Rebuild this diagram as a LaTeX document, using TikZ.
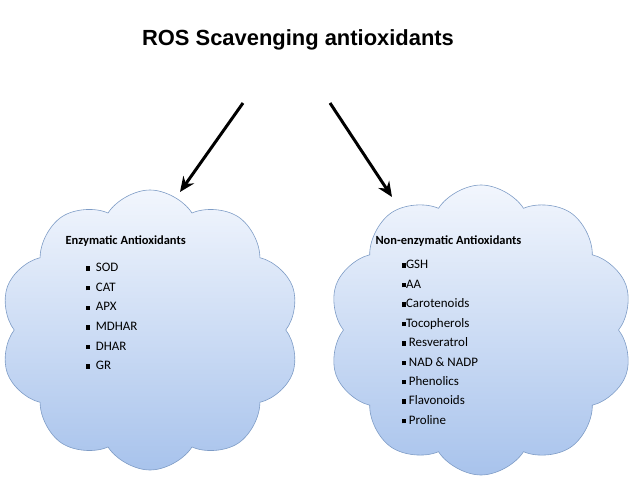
\documentclass[tikz,border=0pt]{standalone}
\usepackage{fontspec}
\setmainfont{Carlito}
\newfontfamily\titlefont{Liberation Sans}
\usetikzlibrary{shapes.symbols,arrows.meta}
\definecolor{cloudtop}{HTML}{F2F6FD}
\definecolor{cloudbot}{HTML}{A8C3EC}
\definecolor{cloudline}{HTML}{7E9CC6}
\newcommand{\sqb}{\raisebox{1pt}{\rule{4.5pt}{4.5pt}}}
\begin{document}
\begin{tikzpicture}[x=1bp,y=-1bp,
    blob/.style={cloud, cloud puffs=10, cloud puff arc=115, draw=cloudline, line width=0.6pt,
      top color=cloudtop, bottom color=cloudbot, inner sep=0pt},
    head/.style={anchor=west, font=\bfseries\fontsize{12.5}{14}\selectfont},
    list/.style={anchor=north west, align=left, font=\fontsize{13}{19.6}\selectfont},
    link/.style={-{Stealth[length=15bp,width=13bp]}, line width=3pt}]
  \useasboundingbox (0,0) rectangle (638,479);
  \node[font=\titlefont\bfseries\fontsize{22}{26}\selectfont] (title) at (298,40) {ROS Scavenging antioxidants};
  \node[blob, minimum width=300bp, minimum height=280bp] (enz) at (150,330) {};
  \node[blob, minimum width=305bp, minimum height=290bp] (non) at (481,330) {};
  \coordinate (s1) at (243,103);
  \coordinate (s2) at (330,103);
  \draw[link] (s1) -- (180,192);
  \draw[link] (s2) -- (392,197);
  % enzymatic
  \node[head] (enzh) at (62,241) {Enzymatic Antioxidants};
  \node[list] (enzl) at (82,260) {\sqb\ \ SOD\\ \sqb\ \ CAT\\ \sqb\ \ APX\\ \sqb\ \ MDHAR\\ \sqb\ \ DHAR\\ \sqb\ \ GR};
  % non-enzymatic
  \node[head] (nonh) at (372,241) {Non-enzymatic Antioxidants};
  \node[list, font=\fontsize{13}{19.5}\selectfont] (nonl) at (398,257) {\sqb GSH\\ \sqb AA\\ \sqb Carotenoids\\ \sqb Tocopherols\\ \sqb\ Resveratrol\\ \sqb\ NAD \& NADP\\ \sqb\ Phenolics\\ \sqb\ Flavonoids\\ \sqb\ Proline};
\end{tikzpicture}
\end{document}
